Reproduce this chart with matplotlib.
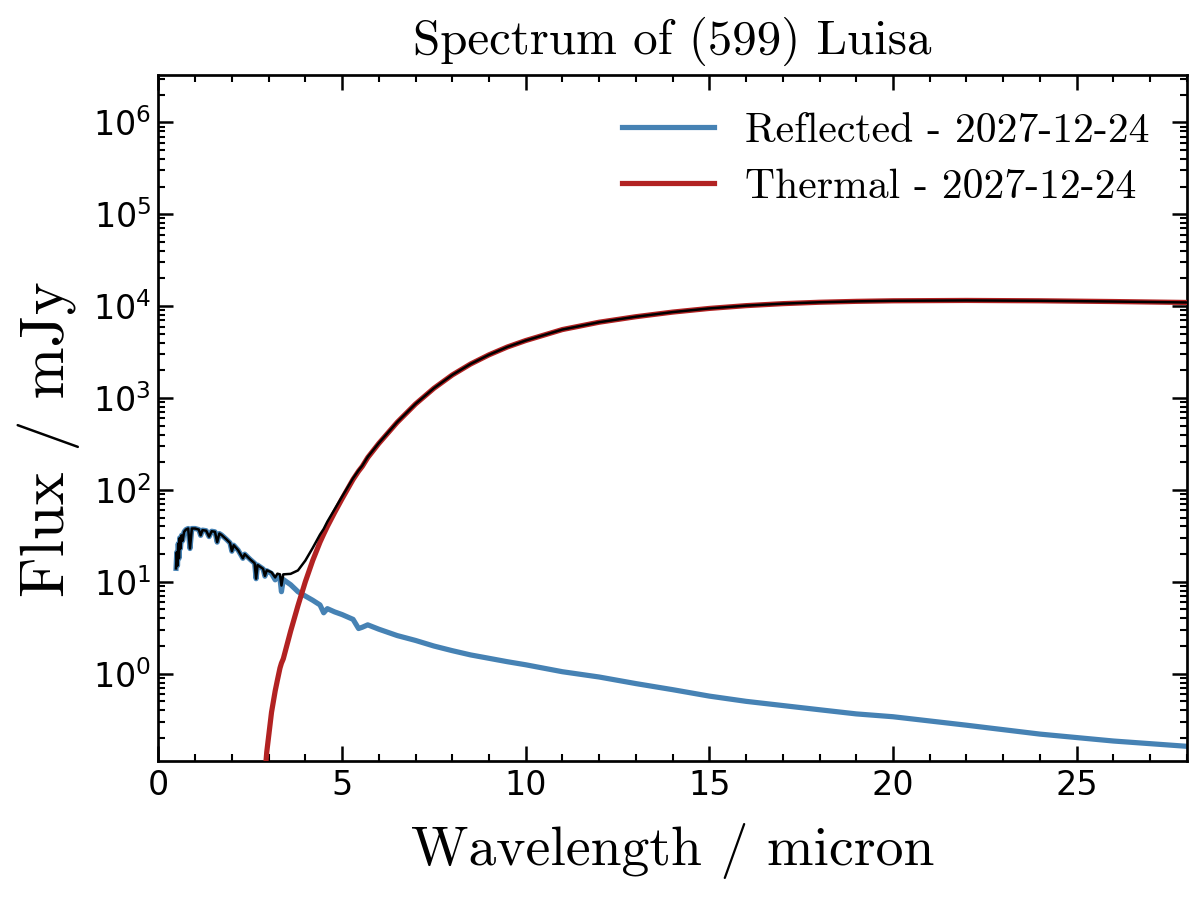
import numpy as np
import matplotlib
matplotlib.use("Agg")
import matplotlib.pyplot as plt
from matplotlib.ticker import MultipleLocator

# wavelength grid (micron) and fluxes (mJy)
wavelength = [0.48, 0.50, 0.52, 0.54, 0.56, 0.58, 0.60, 0.63, 0.66, 0.70,
              0.75, 0.81, 0.86, 0.91, 1.0, 1.1, 1.15, 1.2, 1.3, 1.38,
              1.45, 1.54, 1.6, 1.66, 1.72, 1.85, 1.95, 2.0, 2.05, 2.17,
              2.3, 2.35, 2.5, 2.62, 2.66, 2.7, 2.85, 2.9, 2.95, 3.08,
              3.18, 3.24, 3.31, 3.35, 3.4, 3.6, 3.8, 4.0, 4.2, 4.4,
              4.5, 4.6, 4.8, 5.0, 5.3, 5.45, 5.55, 5.7, 6.0, 6.5,
              7.0, 7.5, 8.0, 8.5, 9.0, 9.5, 10, 11, 12, 13,
              14, 15, 16, 17, 18, 19, 20, 22, 24, 26,
              28]

reflected = [14, 21, 15, 26, 18, 30, 23, 32, 28, 35,
             37, 38, 23, 38, 38, 37, 32, 36.5, 36, 31,
             35.5, 35, 27, 33.5, 32.3, 29, 26.5, 21.5, 25, 22.1,
             18, 20, 17.5, 15.9, 10.8, 15.2, 13.8, 11.5, 13.2, 12.3,
             10.5, 11.4, 10.9, 7.8, 10.6, 9.3, 7.8, 7.0, 6.3, 5.6,
             4.6, 5.1, 4.7, 4.4, 3.9, 3.1, 3.2, 3.4, 3.05, 2.6,
             2.3, 2.0, 1.78, 1.6, 1.47, 1.35, 1.25, 1.05, 0.92, 0.78,
             0.67, 0.57, 0.50, 0.45, 0.405, 0.365, 0.34, 0.275, 0.22, 0.185,
             0.162]

thermal = [0, 0, 0, 0, 0, 0, 0, 0, 0, 0,
           0, 0, 0, 0, 0, 0, 0, 0, 0, 0,
           0, 0, 0, 0, 0, 0, 0, 0, 0, 0,
           0, 0, 0, 0.009, 0.012, 0.016, 0.055, 0.08, 0.14, 0.38,
           0.65, 0.85, 1.15, 1.3, 1.45, 2.9, 5.5, 10, 17, 27,
           33, 40, 57, 80, 130, 160, 180, 225, 320, 543,
           860, 1275, 1780, 2345, 2950, 3590, 4220, 5560, 6680, 7670,
           8610, 9440, 10120, 10640, 11020, 11270, 11430, 11530, 11430, 11220,
           10960]

date_label = "2027-12-24"
title = "Spectrum of (599) Luisa"


def main():
    wave = np.array(wavelength, dtype=float)
    refl = np.array(reflected, dtype=float)
    therm = np.array(thermal, dtype=float)
    total = refl + therm
    has_thermal = therm > 0

    serif = "cmr10"

    fig = plt.figure(figsize=(8, 6), dpi=150)
    ax = fig.add_axes([0.132, 0.154, 0.857, 0.763])

    ax.plot(wave, refl, color="steelblue", lw=2.5,
            label=f"Reflected - {date_label}", zorder=2)
    ax.plot(wave[has_thermal], therm[has_thermal], color="firebrick", lw=2.5,
            label=f"Thermal - {date_label}", zorder=3)
    ax.plot(wave, total, color="black", lw=1.2, zorder=4)

    ax.set_yscale("log")
    ax.set_xlim(0, 28)
    ax.set_ylim(0.111, 3.3e6)
    ax.xaxis.set_minor_locator(MultipleLocator(1))

    ax.tick_params(which="both", direction="in", top=True, right=True,
                   labelsize=16)
    ax.tick_params(which="major", length=7, width=1.2)
    ax.tick_params(which="minor", length=3.5, width=1.0)
    for side in ax.spines.values():
        side.set_linewidth(1.3)

    ax.set_xlabel("Wavelength / micron", family=serif, fontsize=26.8,
                  labelpad=10)
    ax.set_ylabel("Flux / mJy", family=serif, fontsize=30, y=0.47,
                  labelpad=6)
    ax.set_title(title, family=serif, fontsize=23.5, pad=10)

    ax.legend(loc="upper right", frameon=False,
              prop={"family": serif, "size": 20},
              handlelength=2.2, handletextpad=0.75, labelspacing=0.45)

    fig.savefig("out.png", dpi=150)


if __name__ == "__main__":
    main()
